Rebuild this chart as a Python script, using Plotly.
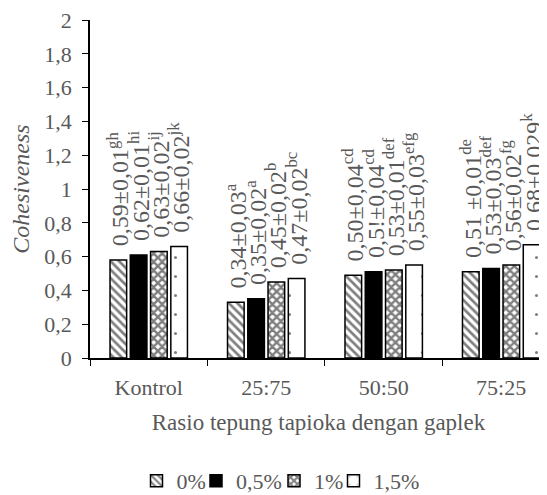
import plotly.graph_objects as go

categories = ["Kontrol", "25:75", "50:50", "75:25"]
series_names = ["0%", "0,5%", "1%", "1,5%"]
values = {
    "0%":   [0.58, 0.33, 0.49, 0.51],
    "0,5%": [0.61, 0.35, 0.51, 0.53],
    "1%":   [0.63, 0.45, 0.52, 0.55],
    "1,5%": [0.66, 0.47, 0.55, 0.67],
}
labels = {
    "0%":   ["0,59±0,01<sup>gh</sup>", "0,34±0,03<sup>a</sup>", "0,50±0,04<sup>cd</sup>", "0,51 ±0,01<sup>de</sup>"],
    "0,5%": ["0,62±0,01<sup>hi</sup>", "0,35±0,02<sup>a</sup>", "0,5!±0,04<sup>cd</sup>", "0,53±0,03<sup>def</sup>"],
    "1%":   ["0,63±0,02<sup>ij</sup>", "0,45±0,02<sup>b</sup>", "0,53±0,01<sup>def</sup>", "0,56±0,02<sup>fg</sup>"],
    "1,5%": ["0,66±0,02<sup>jk</sup>", "0,47±0,02<sup>bc</sup>", "0,55±0,03<sup>efg</sup>", "0,68±0,029<sup>k</sup>"],
}
legend_ids = ["legend", "legend2", "legend3", "legend4"]
legend_x = [0.2384, 0.3488, 0.4935, 0.6039]

patterns = {
    "0%":   dict(shape="\\", size=6, solidity=0.45, fgcolor="black", bgcolor="white", fillmode="overlay"),
    "0,5%": dict(shape="", fgcolor="black", bgcolor="black"),
    "1%":   dict(shape="x", size=6, solidity=0.65, fgcolor="black", bgcolor="white", fillmode="overlay"),
    "1,5%": dict(shape=".", size=19, solidity=0.02, fgcolor="black", bgcolor="white", fillmode="overlay"),
}
colors = {"0%": "white", "0,5%": "black", "1%": "white", "1,5%": "white"}

FONT = "Liberation Serif, Times New Roman, serif"
GRAY = "#595959"

fig = go.Figure()
for s, lid in zip(series_names, legend_ids):
    fig.add_trace(go.Bar(
        name=s, x=categories, y=values[s], legend=lid,
        marker=dict(color=colors[s], line=dict(color="black", width=1.5), pattern=patterns[s]),
        text=["\u00a0\u2009" + t for t in labels[s]],
        textposition="outside", textangle=-90, constraintext="none", cliponaxis=False,
        textfont=dict(family=FONT, size=24, color=GRAY),
    ))

legend_common = dict(orientation="h", xref="container", yref="container",
                     xanchor="left", y=0.029, yanchor="middle",
                     bgcolor="rgba(0,0,0,0)", borderwidth=0,
                     font=dict(family=FONT, size=22, color=GRAY))
legend_layout = {lid: dict(legend_common, x=lx) for lid, lx in zip(legend_ids, legend_x)}

fig.update_layout(
    width=539, height=487,
    margin=dict(l=82, r=0, t=12, b=137, autoexpand=False),
    paper_bgcolor="white", plot_bgcolor="white",
    barmode="group", bargap=0.31, bargroupgap=0.18,
    separators=",.",
    font=dict(family=FONT, size=22, color=GRAY),
    showlegend=True,
    xaxis=dict(range=[-0.5, 3.39], showline=True, linecolor="black", linewidth=1.5,
               ticks="outside", tickson="boundaries", ticklen=6, tickcolor="black",
               automargin=False, ticklabelstandoff=9,
               tickfont=dict(family=FONT, size=22, color=GRAY),
               title=dict(text="Rasio tepung tapioka dengan gaplek", standoff=15,
                          font=dict(family=FONT, size=23, color=GRAY))),
    yaxis=dict(range=[0, 2], dtick=0.2, showline=True, linecolor="black", linewidth=1.5,
               ticks="outside", ticklen=6, tickcolor="black", showgrid=False, zeroline=False,
               automargin=False, ticklabelstandoff=6, ticklabeloverflow="allow",
               tickfont=dict(family=FONT, size=22, color=GRAY),
               title=dict(text="<i>Cohesiveness</i>", standoff=10,
                          font=dict(family=FONT, size=24, color=GRAY))),
    **legend_layout,
)

fig.write_html("out.html")
